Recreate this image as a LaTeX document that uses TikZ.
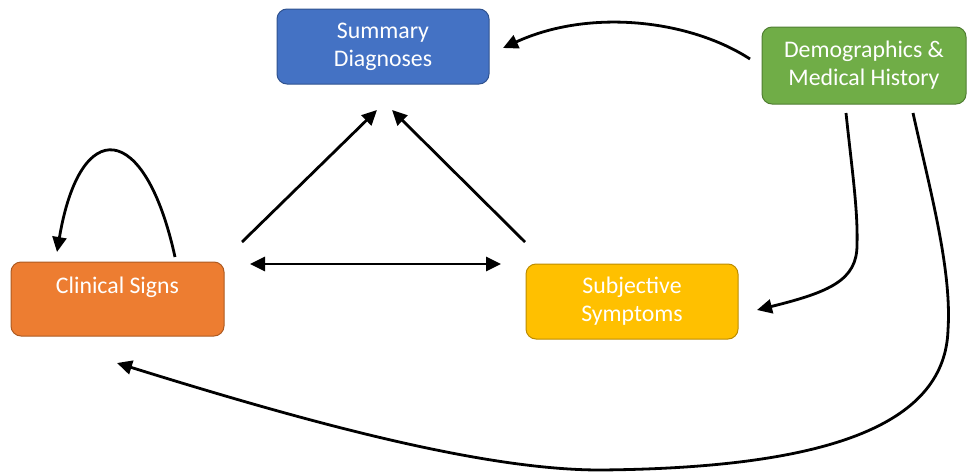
\documentclass[tikz,border=0pt]{standalone}
\usepackage{fontspec}
\setmainfont{Carlito}
\usetikzlibrary{arrows.meta}
\definecolor{cblue}{HTML}{4472C4}
\definecolor{cbluee}{HTML}{2F528F}
\definecolor{cgreen}{HTML}{70AD47}
\definecolor{cgreene}{HTML}{507E32}
\definecolor{corange}{HTML}{ED7D31}
\definecolor{corangee}{HTML}{AE5A21}
\definecolor{cyellow}{HTML}{FFC000}
\definecolor{cyellowe}{HTML}{BC8C00}
\tikzset{
  box/.style={rectangle, rounded corners=10pt, line width=1pt, text=white,
    align=center, inner sep=0pt,
    font=\fontsize{23.8}{28}\selectfont},
  conn/.style={line width=2.8pt, -{Triangle[length=15pt,width=14pt]}},
  dconn/.style={line width=2.8pt, {Triangle[length=15pt,width=14pt]}-{Triangle[length=15pt,width=14pt]}}
}
\begin{document}
\begin{tikzpicture}[x=1pt,y=-1pt]
\useasboundingbox (0,0) rectangle (968,474);
\node[box, fill=cblue, draw=cbluee, minimum width=212pt, minimum height=75pt] (summ) at (383,46.5) {Summary\\Diagnoses};
\node[box, fill=cgreen, draw=cgreene, minimum width=204pt, minimum height=77pt] (demo) at (864,65.5) {Demographics \&\\Medical History};
\node[box, fill=corange, draw=corangee, minimum width=213pt, minimum height=74pt] (clin) at (117.5,299) {};
\node[text=white, font=\fontsize{23.8}{28}\selectfont, inner sep=0pt] (clint) at (117.5,287) {Clinical Signs};
\node[box, fill=cyellow, draw=cyellowe, minimum width=212pt, minimum height=75pt] (subj) at (632,301.5) {Subjective\\Symptoms};

\coordinate (d1s) at (750,59);
\coordinate (d1e) at (503,48);
\coordinate (d2s) at (846,113);
\coordinate (d2m) at (857,245);
\coordinate (d2e) at (757,310);
\coordinate (d3s) at (913,113);
\coordinate (d3a) at (948,330);
\coordinate (d3b) at (600,470);
\coordinate (d3e) at (117,363);
\coordinate (ls) at (175,257);
\coordinate (le) at (57,252);
\coordinate (cs) at (242,242);
\coordinate (ce) at (377,110);
\coordinate (ss) at (525,242);
\coordinate (se) at (392,110);
\coordinate (hl) at (250,264);
\coordinate (hr) at (501,264);

\draw[conn] (d1s) .. controls (690,20) and (590,8) .. (d1e);
\draw[conn] (d2s) .. controls (852,170) and (858,210) .. (d2m) .. controls (857,280) and (830,292) .. (d2e);
\draw[conn] (d3s) .. controls (930,190) and (952,270) .. (d3a) .. controls (945,420) and (840,468) .. (d3b) .. controls (480,470) and (300,420) .. (d3e);
\draw[conn] (ls) .. controls (145,120) and (80,115) .. (le);
\draw[conn] (cs) -- (ce);
\draw[conn] (ss) -- (se);
\draw[dconn] (hl) -- (hr);
\end{tikzpicture}
\end{document}
